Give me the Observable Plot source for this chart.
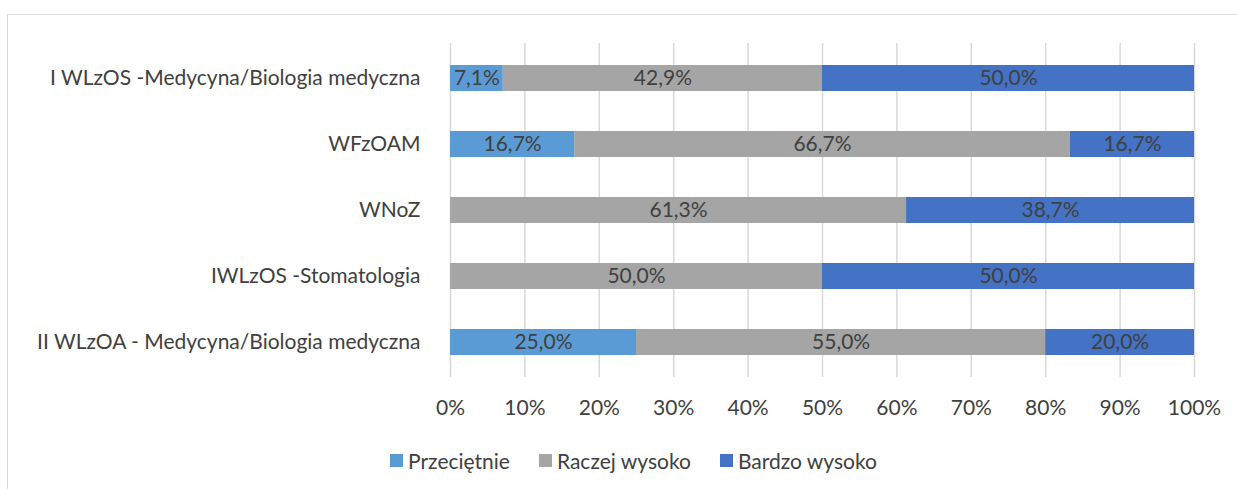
<!DOCTYPE html>
<html>
<head>
<meta charset="utf-8">
<script src="https://cdn.jsdelivr.net/npm/d3@7"></script>
<script src="https://cdn.jsdelivr.net/npm/@observablehq/plot@0.6"></script>
<style>
  body { margin: 0; background: #fff; font-family: Lato, "Open Sans", sans-serif; }
  #wrap { position: relative; width: 1237px; height: 489px; overflow: hidden; }
  #frame { position: absolute; left: 7px; top: 14px; width: 1240px; height: 490px; border: 1px solid #d9d9d9; box-sizing: border-box; }
  #chart { position: absolute; left: 0; top: 0; }
  #legend { position: absolute; top: 448px; left: 0; width: 1237px; display: flex; justify-content: center; gap: 29px; font-size: 21px; color: #404040; padding-left: 30px; box-sizing: border-box; }
  #legend .item { display: flex; align-items: center; }
  #legend .sw { width: 13px; height: 13px; margin-right: 5px; display: inline-block; }
</style>
</head>
<body>
<div id="wrap">
  <div id="frame"></div>
  <div id="chart"></div>
  <div id="legend"></div>
</div>
<script>
const categories = [
  "I WLzOS -Medycyna/Biologia medyczna",
  "WFzOAM",
  "WNoZ",
  "IWLzOS -Stomatologia",
  "II WLzOA - Medycyna/Biologia medyczna"
];
const seriesNames = ["Przeciętnie", "Raczej wysoko", "Bardzo wysoko"];
const seriesColors = ["#5B9BD5", "#A5A5A5", "#4472C4"];
const przecietnie = [7.1, 16.7, 0, 0, 25.0];
const raczejWysoko = [42.9, 66.7, 61.3, 50.0, 55.0];
const bardzoWysoko = [50.0, 16.7, 38.7, 50.0, 20.0];
const xTicks = [0, 0.1, 0.2, 0.3, 0.4, 0.5, 0.6, 0.7, 0.8, 0.9, 1.0];

const seriesValues = [przecietnie, raczejWysoko, bardzoWysoko];
const data = [];
seriesNames.forEach((s, si) => {
  categories.forEach((c, ci) => {
    data.push({category: c, series: s, value: seriesValues[si][ci]});
  });
});

const fmt = v => v.toFixed(1).replace(".", ",") + "%";

const stackOpts = {x: "value", y: "category", z: "series", offset: "normalize", order: seriesNames};

const chart = Plot.plot({
  width: 1237,
  height: 440,
  marginLeft: 450,
  marginRight: 43,
  marginTop: 43,
  marginBottom: 63,
  style: {fontFamily: "Lato, 'Open Sans', sans-serif", fontSize: "21px", color: "#404040", background: "transparent"},
  x: {domain: [0, 1], ticks: xTicks, tickFormat: d => Math.round(d * 100) + "%", grid: false, label: null},
  y: {domain: categories, paddingInner: 0.61, paddingOuter: 0.305, label: null},
  color: {domain: seriesNames, range: seriesColors},
  marks: [
    Plot.ruleX(xTicks, {stroke: "#d9d9d9", strokeWidth: 1.5, strokeOpacity: 1}),
    Plot.barX(data, Plot.stackX({...stackOpts, fill: "series"})),
    Plot.text(data, Plot.stackX({...stackOpts, text: d => d.value > 0 ? fmt(d.value) : "", fill: "#404040", fontSize: 21})),
    Plot.axisX({ticks: xTicks, tickFormat: d => Math.round(d * 100) + "%", tickSize: 0, tickPadding: 23, fontSize: 21, label: null, stroke: "none"}),
    Plot.axisY({tickSize: 0, tickPadding: 30, fontSize: 21, label: null})
  ]
});
document.getElementById("chart").appendChild(chart);

const legend = document.getElementById("legend");
seriesNames.forEach((s, i) => {
  const item = document.createElement("span");
  item.className = "item";
  const sw = document.createElement("span");
  sw.className = "sw";
  sw.style.background = seriesColors[i];
  item.appendChild(sw);
  item.appendChild(document.createTextNode(s));
  legend.appendChild(item);
});
</script>
</body>
</html>
